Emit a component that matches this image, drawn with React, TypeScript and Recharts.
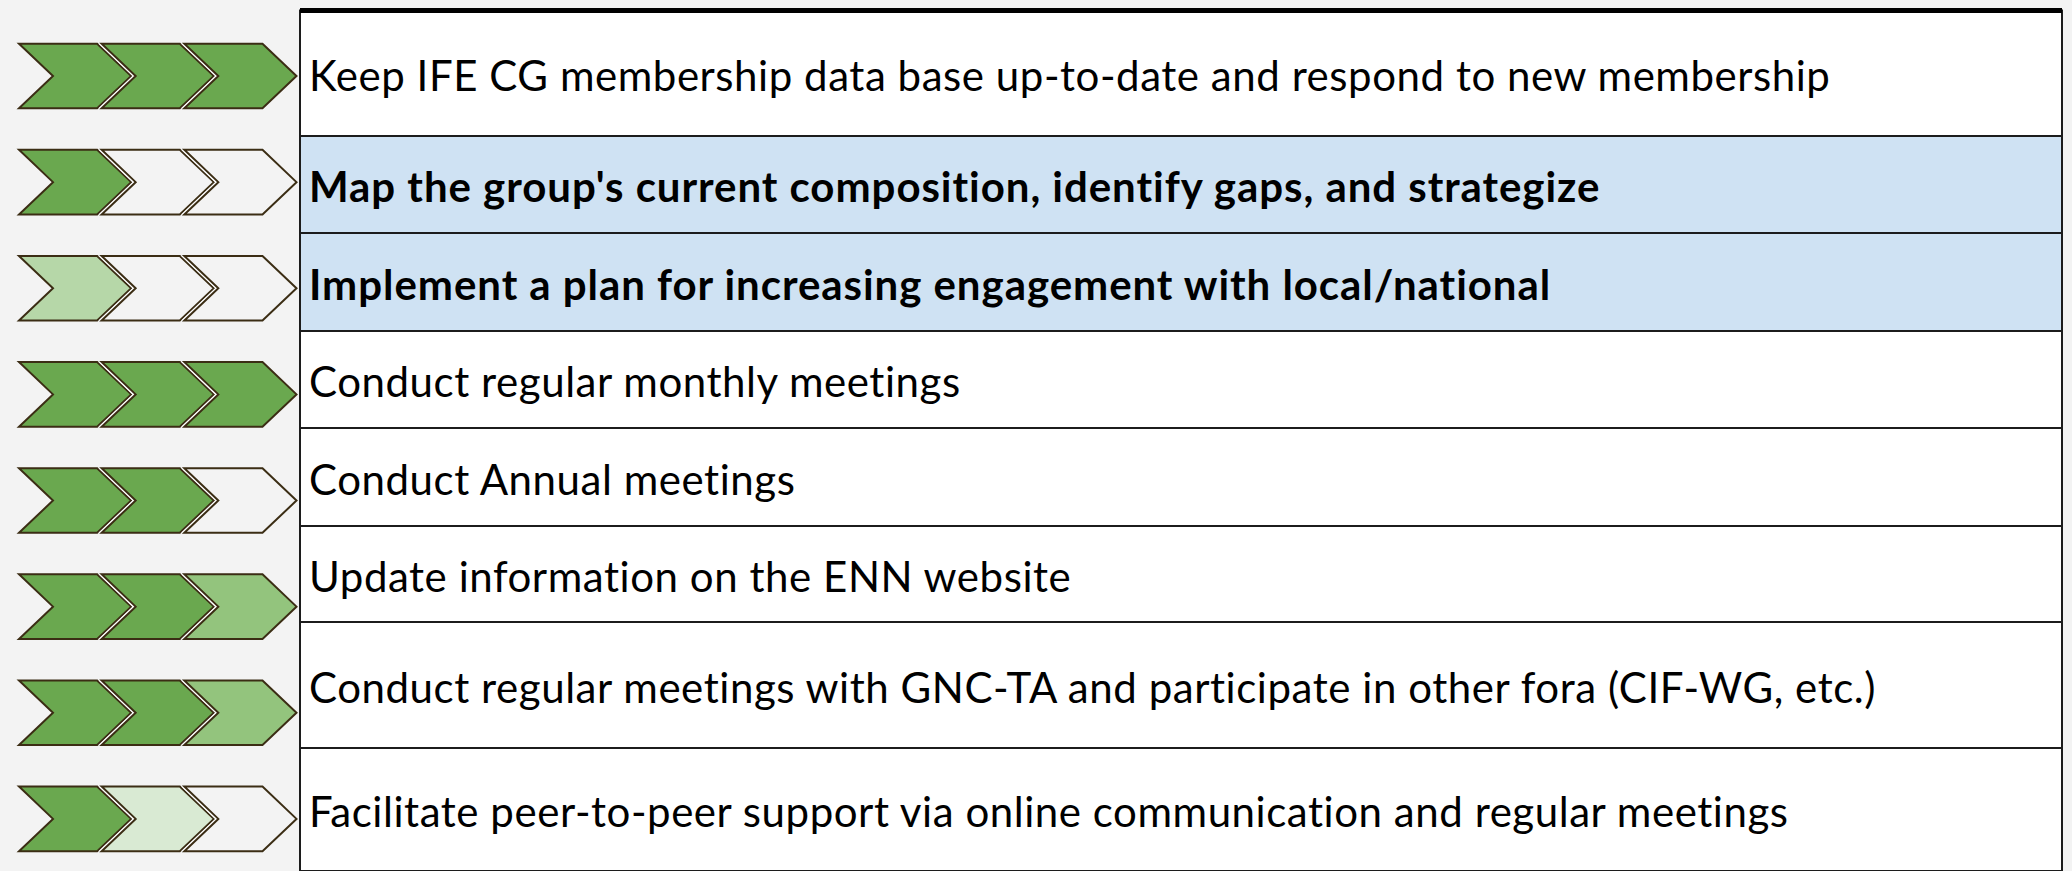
import { BarChart, Bar, XAxis, YAxis, ReferenceLine } from 'recharts';

const TASKS = [
  'Keep IFE CG membership data base up-to-date and respond to new membership',
  "Map the group's current composition, identify gaps, and strategize",
  'Implement a plan for increasing engagement with local/national',
  'Conduct regular monthly meetings',
  'Conduct Annual meetings',
  'Update information on the ENN website',
  'Conduct regular meetings with GNC-TA and participate in other fora (CIF-WG, etc.)',
  'Facilitate peer-to-peer support via online communication and regular meetings',
];

// progress level of each of the three stages (0 = not started, 4 = done)
const STAGE_1 = [4, 4, 2, 4, 4, 4, 4, 4];
const STAGE_2 = [4, 0, 0, 4, 4, 4, 4, 1];
const STAGE_3 = [4, 0, 0, 4, 0, 3, 3, 0];
const HIGHLIGHT = [false, true, true, false, false, false, false, false];

const LEVEL_COLORS = ['#f3f3f3', '#d9ead3', '#b6d7a8', '#93c47d', '#6aa84f'];

// table row heights (layout only)
const ROW_HEIGHTS = [125.5, 97, 98, 97, 98, 96, 126, 123];

const FONT = 'Lato, "Open Sans", sans-serif';

const rows = TASKS.map((task, i) => ({
  task,
  s1: 1,
  s2: 1,
  s3: 1,
  levels: [STAGE_1[i], STAGE_2[i], STAGE_3[i]],
  highlight: HIGHLIGHT[i],
}));

// the table is one stacked column, one segment per task row
const tableData = [Object.fromEntries(ROW_HEIGHTS.map((h, i) => [`r${i}`, h]))];
const TOTAL = ROW_HEIGHTS.reduce((a, b) => a + b, 0);

const makeChevron = (stage: number) => (props: any) => {
  const { x, y, width, height, payload } = props;
  const level = payload.levels[stage];
  const h = height * 0.61;
  const cy = y + height / 2;
  const top = cy - h / 2;
  const bottom = cy + h / 2;
  const depth = 34;
  const gap = 4.5;
  const right = x + width - gap;
  const d = `M${x},${top} L${right},${top} L${right + depth},${cy} L${right},${bottom} L${x},${bottom} L${x + depth},${cy} Z`;
  const l = x - gap + 1.2;
  const spacer = `M${l},${top} L${x},${top} L${x + depth},${cy} L${x},${bottom} L${l},${bottom} L${l + depth},${cy} Z`;
  return (
    <g>
      {stage > 0 && <path d={spacer} fill="#ffffff" />}
      <path d={d} fill={LEVEL_COLORS[level]} stroke="#3b2d14" strokeWidth={2} />
    </g>
  );
};

const makeCell = (i: number) => (props: any) => {
  const { x, width } = props;
  const y = Math.min(props.y, props.y + props.height);
  const height = Math.abs(props.height);
  const bold = HIGHLIGHT[i];
  return (
    <g>
      <rect
        x={x}
        y={y}
        width={width}
        height={height}
        fill={bold ? '#cfe2f3' : '#ffffff'}
        stroke="#1c1c1c"
        strokeWidth={2}
      />
      <text
        x={x + 9}
        y={y + height / 2 + 17.5}
        fontFamily={FONT}
        fontSize={42}
        fontWeight={bold ? 700 : 400}
        letterSpacing={bold ? 0.95 : 0.55}
        fill="#000000"
      >
        {TASKS[i]}
      </text>
    </g>
  );
};

const App = () => {
  return (
    <div style={{ position: 'relative', width: 2072, height: 871, overflow: 'hidden', background: '#f3f3f3' }}>
      <style>{`body { margin: 0; background: #f3f3f3; }`}</style>

      <div style={{ position: 'absolute', left: 0, top: 0 }}>
        <BarChart
          width={2072}
          height={871}
          data={tableData}
          margin={{ top: 10.5, right: 10, bottom: 0, left: 300 }}
          barCategoryGap={0}
        >
          <XAxis type="category" hide />
          <YAxis type="number" domain={[0, TOTAL]} reversed hide />
          {ROW_HEIGHTS.map((_, i) => (
            <Bar key={`r${i}`} dataKey={`r${i}`} stackId="t" shape={makeCell(i)} isAnimationActive={false} />
          ))}
          <ReferenceLine y={0} stroke="#000000" strokeWidth={5} />
        </BarChart>
      </div>

      <div style={{ position: 'absolute', left: 0, top: 0 }}>
        <BarChart
          layout="vertical"
          width={307}
          height={872}
          data={rows}
          margin={{ top: 23, right: 40, bottom: 0, left: 19 }}
          barCategoryGap={0}
        >
          <XAxis type="number" domain={[0, 3]} hide />
          <YAxis type="category" dataKey="task" hide />
          <Bar dataKey="s1" stackId="p" shape={makeChevron(0)} isAnimationActive={false} />
          <Bar dataKey="s2" stackId="p" shape={makeChevron(1)} isAnimationActive={false} />
          <Bar dataKey="s3" stackId="p" shape={makeChevron(2)} isAnimationActive={false} />
        </BarChart>
      </div>
    </div>
  );
};

export default App;
